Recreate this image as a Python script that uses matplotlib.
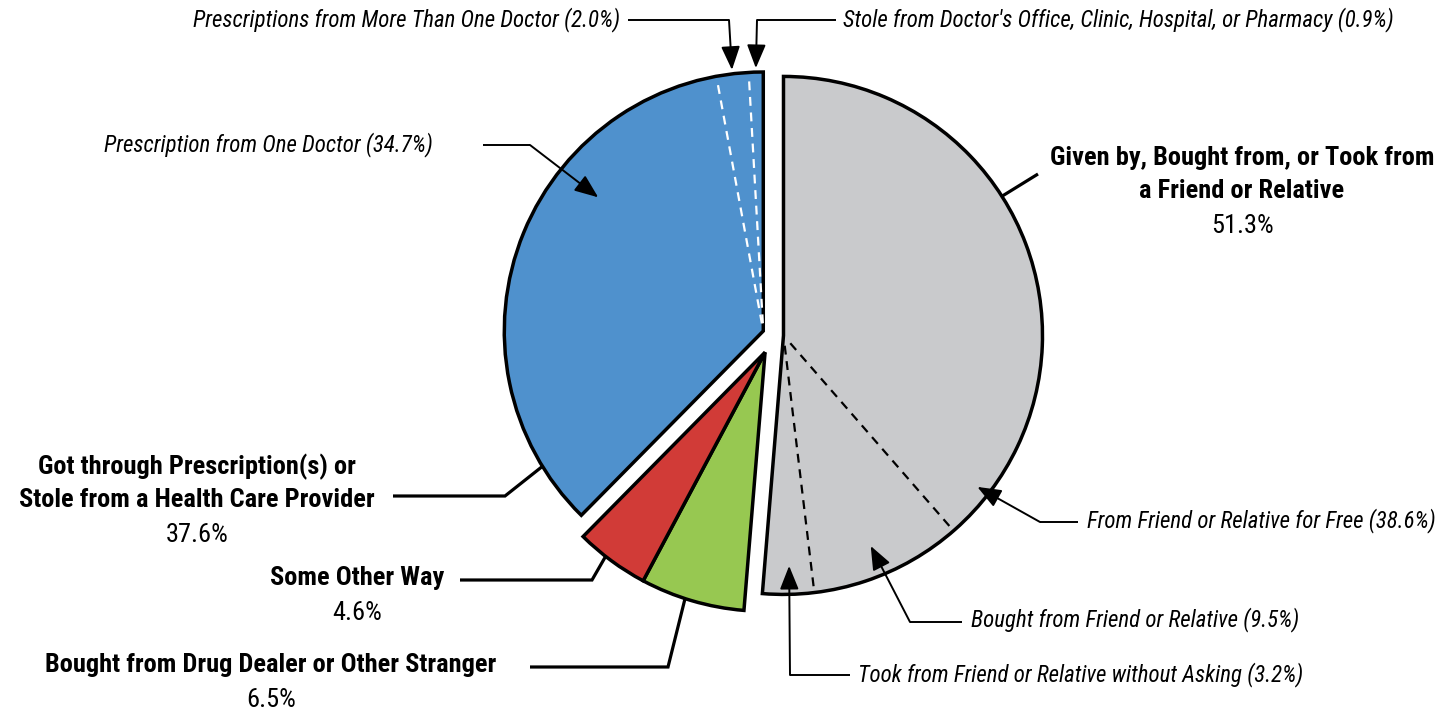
import numpy as np
import matplotlib
matplotlib.use("Agg")
import matplotlib.pyplot as plt
from matplotlib import font_manager

# main sources (clockwise from 12 o'clock)
main_labels = ["Given by, Bought from, or Took from\na Friend or Relative",
               "Bought from Drug Dealer or Other Stranger",
               "Some Other Way",
               "Got through Prescription(s) or\nStole from a Health Care Provider"]
main_values = [51.3, 6.5, 4.6, 37.6]
main_colors = ["#c9cacc", "#97c851", "#d13b37", "#4f91cd"]

# breakdown of the friend/relative slice (clockwise)
friend_labels = ["From Friend or Relative for Free",
                 "Bought from Friend or Relative",
                 "Took from Friend or Relative without Asking"]
friend_values = [38.6, 9.5, 3.2]

# breakdown of the prescription slice (clockwise, ending at 12 o'clock)
rx_labels = ["Prescription from One Doctor",
             "Prescriptions from More Than One Doctor",
             "Stole from Doctor's Office, Clinic, Hospital, or Pharmacy"]
rx_values = [34.7, 2.0, 0.9]

W, H = 1452, 716

# pick a narrow face if one is installed
names = {f.name for f in font_manager.fontManager.ttflist}
FAM, STRETCH = "Liberation Sans", "normal"
for cand in ["Roboto Condensed", "Liberation Sans Narrow", "Open Sans Condensed",
             "Noto Sans Condensed", "DejaVu Sans Condensed"]:
    if cand in names:
        FAM = cand
        break
else:
    cond = [f for f in font_manager.fontManager.ttflist
            if str(f.stretch) in ("condensed", "semi-condensed")]
    if cond:
        FAM, STRETCH = cond[0].name, "condensed"
NARROW = FAM != "Liberation Sans"
BOLD_FS = 19 if NARROW else 15
ITAL_FS = 16.5 if NARROW else 13


def img(x, y):
    return (x, H - y)


def polar(center, ang, r):
    a = np.deg2rad(ang)
    return (center[0] + r * np.cos(a), center[1] + r * np.sin(a))


fig = plt.figure(figsize=(W / 100, H / 100), dpi=100)
ax = fig.add_axes([0, 0, 1, 1])

R = 259
base = img(773, 335)
# explode is in data units here (pixels)
wedges, _ = ax.pie(main_values, colors=main_colors, startangle=90, counterclock=False,
                   explode=[10.5, 0, 0, 10.5], center=base, radius=R,
                   wedgeprops=dict(edgecolor="black", linewidth=2.5, joinstyle="miter"))

# push the two small slices out together
green, red = wedges[1], wedges[2]
mid = (red.theta1 + green.theta2) / 2
rg_center = polar(base, mid, 19)
green.set_center(rg_center)
red.set_center(rg_center)

gray_c = wedges[0].center
blue_c = wedges[3].center

# dashed sub-slice dividers
cum = np.cumsum(friend_values)[:-1]
for c in cum:
    ang = 90 - 3.6 * c
    p0 = polar(gray_c, ang, 0.04 * R)
    p1 = polar(gray_c, ang, R)
    ax.plot([p0[0], p1[0]], [p0[1], p1[1]], color="black", lw=1.6, ls=(0, (4, 3)))

cum = np.cumsum(rx_values[::-1])[:-1]
for c in cum:
    ang = 90 + 3.6 * c
    p0 = polar(blue_c, ang, 0.03 * R)
    p1 = polar(blue_c, ang, R - 4)
    ax.plot([p0[0], p1[0]], [p0[1], p1[1]], color="white", lw=1.6, ls=(0, (4, 3)))


def bold_block(lines, pct, cx, ys):
    for txt, y in zip(lines.split("\n"), ys):
        ax.text(*img(cx, y), txt, ha="center", va="center", fontsize=BOLD_FS,
                fontweight="bold", family=FAM, fontstretch=STRETCH)
    ax.text(*img(cx, ys[-1] + 35), f"{pct}%", ha="center", va="center",
            fontsize=BOLD_FS, family=FAM, fontstretch=STRETCH)


def italic(txt, x, y, ha):
    ax.text(*img(x, y), txt, ha=ha, va="center", fontsize=ITAL_FS, style="italic",
            family=FAM, fontstretch=STRETCH)


def leader(points, lw=2.3):
    xs, ys = zip(*points)
    ax.plot(xs, ys, color="black", lw=lw, solid_capstyle="butt", solid_joinstyle="miter")


def arrow(points, tip):
    leader(points, lw=1.4)
    ax.annotate("", xy=tip, xytext=points[-1],
                arrowprops=dict(arrowstyle="-|>,head_length=0.85,head_width=0.34",
                                color="black", lw=1.4, mutation_scale=17,
                                shrinkA=0, shrinkB=0))


# main labels
bold_block(main_labels[0], main_values[0], 1242, [158, 191])
leader([polar(gray_c, 32.5, R), img(1038, 174)])

bold_block(main_labels[3], main_values[3], 197, [467, 500])
leader([img(393, 496), img(505, 496), polar(blue_c, 211.5, R)])

bold_block(main_labels[2], main_values[2], 357, [578])
leader([img(460, 580), img(592, 580), polar(rg_center, 232, R)])

bold_block(main_labels[1], main_values[1], 271, [665])
leader([img(530, 667), img(668, 667), polar(rg_center, 252, R)])

# breakdown labels
italic(f"{rx_labels[1]} ({rx_values[1]:.1f}%)", 620, 20, "right")
arrow([img(628, 20), img(729, 20)], polar(blue_c, 90 + 3.6 * (rx_values[2] + rx_values[1] / 2), R + 4))
italic(f"{rx_labels[2]} ({rx_values[2]:.1f}%)", 843, 20, "left")
arrow([img(836, 20), img(757, 20)], polar(blue_c, 90 + 3.6 * rx_values[2] / 2, R + 4))
italic(f"{rx_labels[0]} ({rx_values[0]:.1f}%)", 433, 145, "right")
arrow([img(483, 145), img(530, 145)], polar(blue_c, 141, 0.82 * R))

italic(f"{friend_labels[0]} ({friend_values[0]:.1f}%)", 1087, 521, "left")
arrow([img(1078, 522), img(1040, 522)], polar(gray_c, -38, 0.95 * R))
italic(f"{friend_labels[1]} ({friend_values[1]:.1f}%)", 971, 620, "left")
arrow([img(962, 622), img(910, 622)], polar(gray_c, -67.5, 0.88 * R))
italic(f"{friend_labels[2]} ({friend_values[2]:.1f}%)", 858, 675, "left")
arrow([img(850, 675), img(790, 675)], polar(gray_c, -88.6, 0.89 * R))

ax.set_xlim(0, W)
ax.set_ylim(0, H)
ax.set_aspect("equal")
ax.axis("off")

fig.savefig("out.png", dpi=100, facecolor="white")
